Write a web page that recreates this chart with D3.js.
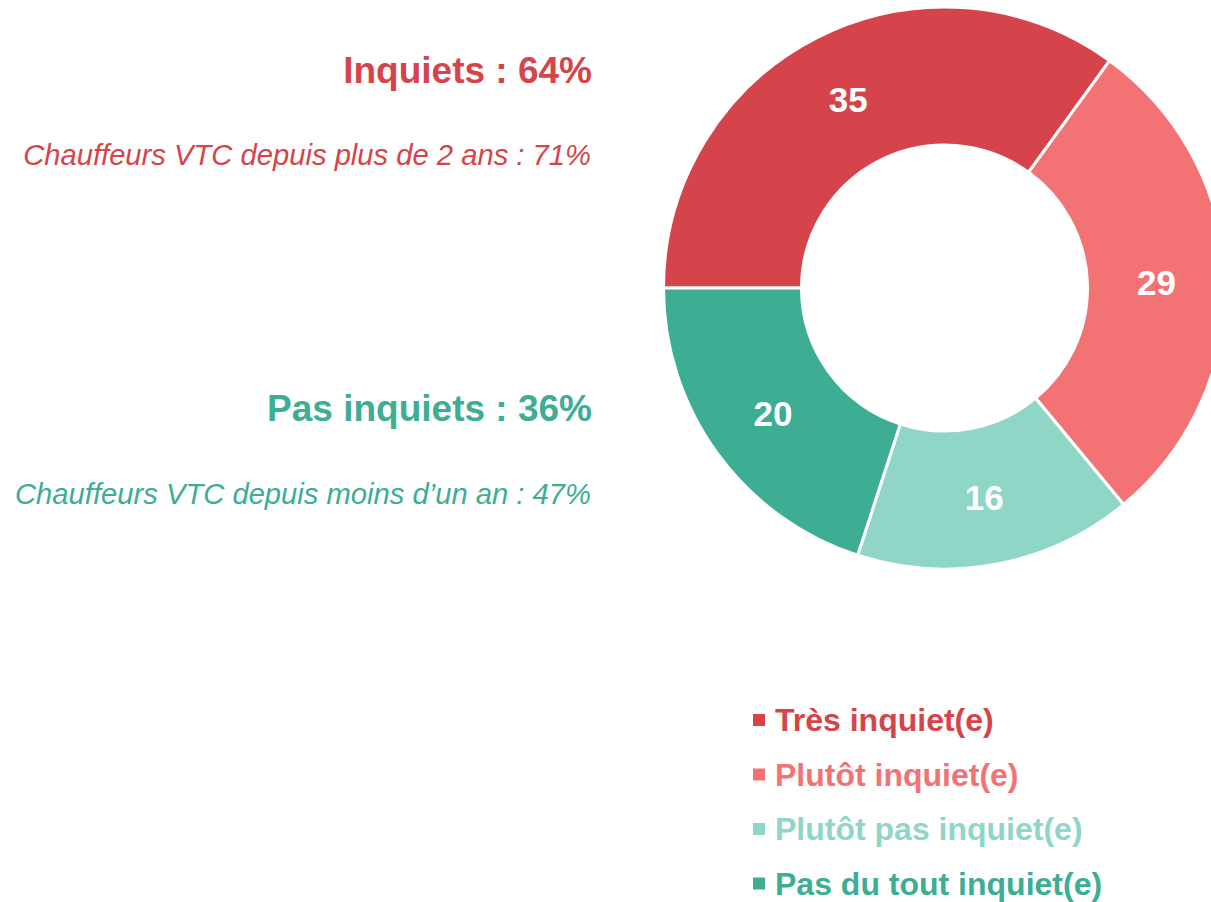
<!DOCTYPE html>
<html>
<head>
<meta charset="utf-8">
<script src="https://cdn.jsdelivr.net/npm/d3@7"></script>
<style>
  body { margin: 0; background: #fff; }
  svg text { font-family: Arial, "Liberation Sans", Helvetica, sans-serif; }
</style>
</head>
<body>
<div id="chart"></div>
<script>
// data
var categories = ["Très inquiet(e)", "Plutôt inquiet(e)", "Plutôt pas inquiet(e)", "Pas du tout inquiet(e)"];
var values = [35, 29, 16, 20];
var colors = ["#d6444b", "#f37375", "#8fd6c7", "#3dad94"];

var summaryTitles = ["Inquiets : 64%", "Pas inquiets : 36%"];
var summaryNotes = ["Chauffeurs VTC depuis plus de 2 ans : 71%", "Chauffeurs VTC depuis moins d\u2019un an : 47%"];
var summaryColors = ["#d6444b", "#3dad94"];

var width = 1211, height = 902;

var svg = d3.select("#chart").append("svg")
    .attr("width", width)
    .attr("height", height);

// donut
var cx = 944.5, cy = 288, outerR = 281, innerR = 143;

var pie = d3.pie()
    .sort(null)
    .startAngle(-Math.PI / 2)
    .endAngle(1.5 * Math.PI)
    .value(d => d);

var arc = d3.arc()
    .innerRadius(innerR)
    .outerRadius(outerR);

var g = svg.append("g")
    .attr("transform", "translate(" + cx + "," + cy + ")");

var arcs = pie(values);

g.selectAll(".slice")
    .data(arcs)
    .join("path")
    .attr("class", "slice")
    .attr("d", arc)
    .attr("fill", (d, i) => colors[i])
    .attr("stroke", "#fff")
    .attr("stroke-width", 3);

g.selectAll(".slice-label")
    .data(arcs)
    .join("text")
    .attr("class", "slice-label")
    .attr("transform", d => "translate(" + arc.centroid(d) + ")")
    .attr("text-anchor", "middle")
    .attr("dy", "0.38em")
    .style("font-size", "35px")
    .style("font-weight", "bold")
    .attr("fill", "#fff")
    .text(d => d.data);

// summary texts on the left
var titleY = [83, 421];
var noteY = [165, 504];

summaryTitles.forEach(function(t, i) {
    svg.append("text")
        .attr("x", 592)
        .attr("y", titleY[i])
        .attr("text-anchor", "end")
        .style("font-size", "37px")
        .style("font-weight", "bold")
        .attr("fill", summaryColors[i])
        .text(t);

    svg.append("text")
        .attr("x", 591)
        .attr("y", noteY[i])
        .attr("text-anchor", "end")
        .style("font-size", "29.2px")
        .style("font-style", "italic")
        .attr("fill", summaryColors[i])
        .text(summaryNotes[i]);
});

// legend
var legend = svg.append("g")
    .attr("transform", "translate(753,731)");

var rowH = 54.5;

legend.selectAll("rect")
    .data(categories)
    .join("rect")
    .attr("x", 0)
    .attr("y", (d, i) => i * rowH - 17)
    .attr("width", 12)
    .attr("height", 12)
    .attr("fill", (d, i) => colors[i]);

legend.selectAll("text")
    .data(categories)
    .join("text")
    .attr("x", 22)
    .attr("y", (d, i) => i * rowH)
    .style("font-size", "32px")
    .style("font-weight", "bold")
    .attr("fill", (d, i) => colors[i])
    .text(d => d);
</script>
</body>
</html>
